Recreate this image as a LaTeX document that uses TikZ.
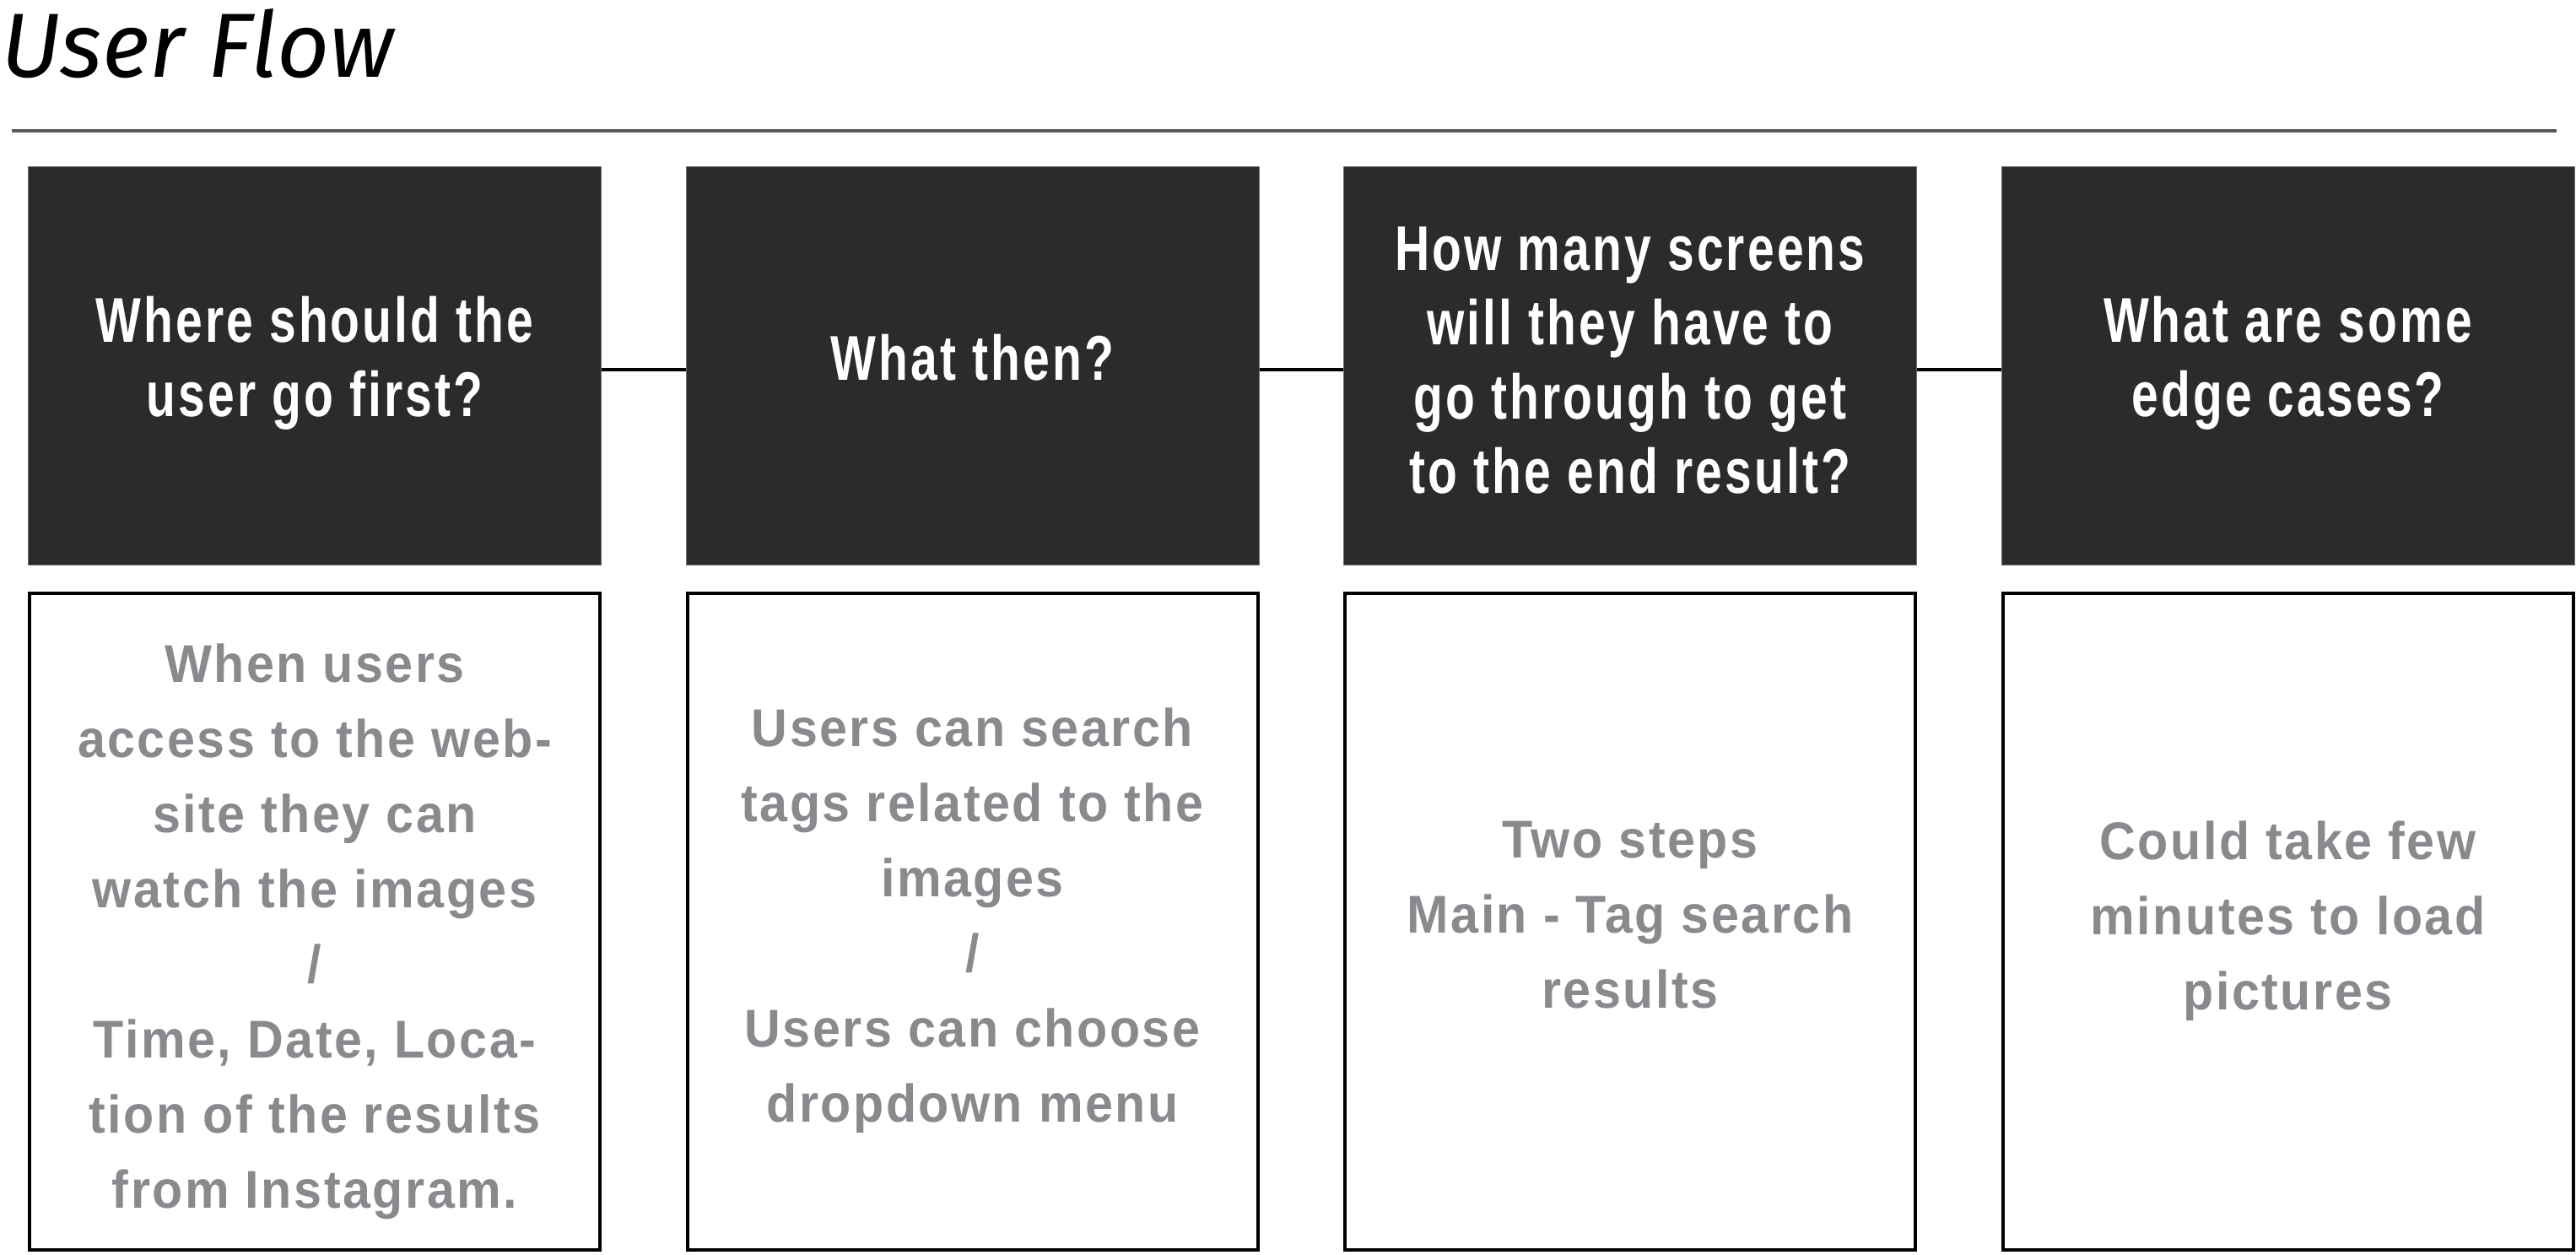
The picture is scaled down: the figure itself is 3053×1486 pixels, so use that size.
\documentclass[tikz,border=0pt]{standalone}
\usepackage{fontspec}
\setmainfont{Liberation Sans}
\newfontfamily\titlefont{Fira Sans}
\newfontfamily\headfont{Liberation Sans}[FakeStretch=0.76,LetterSpace=4.2]
\newfontfamily\bodyfont{Liberation Sans}[FakeStretch=0.94,LetterSpace=4]

\definecolor{boxfill}{HTML}{2B2B2B}
\definecolor{boxedge}{HTML}{707070}
\definecolor{bodygray}{HTML}{898A8E}
\definecolor{rulegray}{HTML}{5A5A5C}

\tikzset{
  question/.style={draw=boxedge, line width=1pt, fill=boxfill,
    minimum width=679pt, minimum height=472pt, inner sep=0pt},
  answer/.style={draw=black, line width=4pt, fill=white,
    minimum width=676pt, minimum height=778pt, inner sep=0pt},
  qtext/.style={text=white, align=center, inner sep=0pt,
    font=\headfont\bfseries\fontsize{75}{88}\selectfont},
  atext/.style={text=bodygray, align=center, inner sep=0pt,
    font=\bodyfont\bfseries\fontsize{63}{89}\selectfont},
  link/.style={draw=black, line width=3.5pt},
  headrule/.style={draw=rulegray, line width=4.5pt}
}

\begin{document}
\begin{tikzpicture}[x=1pt, y=-1pt]
\useasboundingbox (0,0) rectangle (3053,1486);

% title and rule
\node[anchor=base west, inner sep=0pt,
      font=\titlefont\itshape\fontsize{108}{130}\selectfont] (title) at (1,91) {User Flow};
\coordinate (ruleL) at (14,155);
\coordinate (ruleR) at (3030,155);
\draw[headrule] (ruleL) -- (ruleR);

% question boxes
\node[question] (q1) at (373,433.5) {};
\node[question] (q2) at (1152.5,433.5) {};
\node[question] (q3) at (1932,433.5) {};
\node[question] (q4) at (2711.5,433.5) {};

% answer boxes
\node[answer] (a1) at (373,1092) {};
\node[answer] (a2) at (1152.5,1092) {};
\node[answer] (a3) at (1932,1092) {};
\node[answer] (a4) at (2711.5,1092) {};

% links between the questions
\draw[link] ([yshift=-4.5pt]q1.east) -- ([yshift=-4.5pt]q2.west);
\draw[link] ([yshift=-4.5pt]q2.east) -- ([yshift=-4.5pt]q3.west);
\draw[link] ([yshift=-4.5pt]q3.east) -- ([yshift=-4.5pt]q4.west);

% question texts
\node[qtext] (q1t) at (373,430) {Where should the\\user go first?};
\node[qtext] (q2t) at (1152.5,424) {What then?};
\node[qtext] (q3t) at (1932,427.5) {How many screens\\will they have to\\go through to get\\to the end result?};
\node[qtext] (q4t) at (2711.5,430) {What are some\\edge cases?};

% answer texts
\node[atext] (a1t) at (373,1103.5) {When users\\access to the web-\\site they can\\watch the images\\/\\Time, Date, Loca-\\tion of the results\\from Instagram.};
\node[atext] (a2t) at (1152.5,1090.5) {Users can search\\tags related to the\\images\\/\\Users can choose\\dropdown menu};
\node[atext] (a3t) at (1932,1084.5) {Two steps\\Main - Tag search\\results};
\node[atext] (a4t) at (2711.5,1091) {Could take few\\minutes to load\\pictures};
\end{tikzpicture}
\end{document}
